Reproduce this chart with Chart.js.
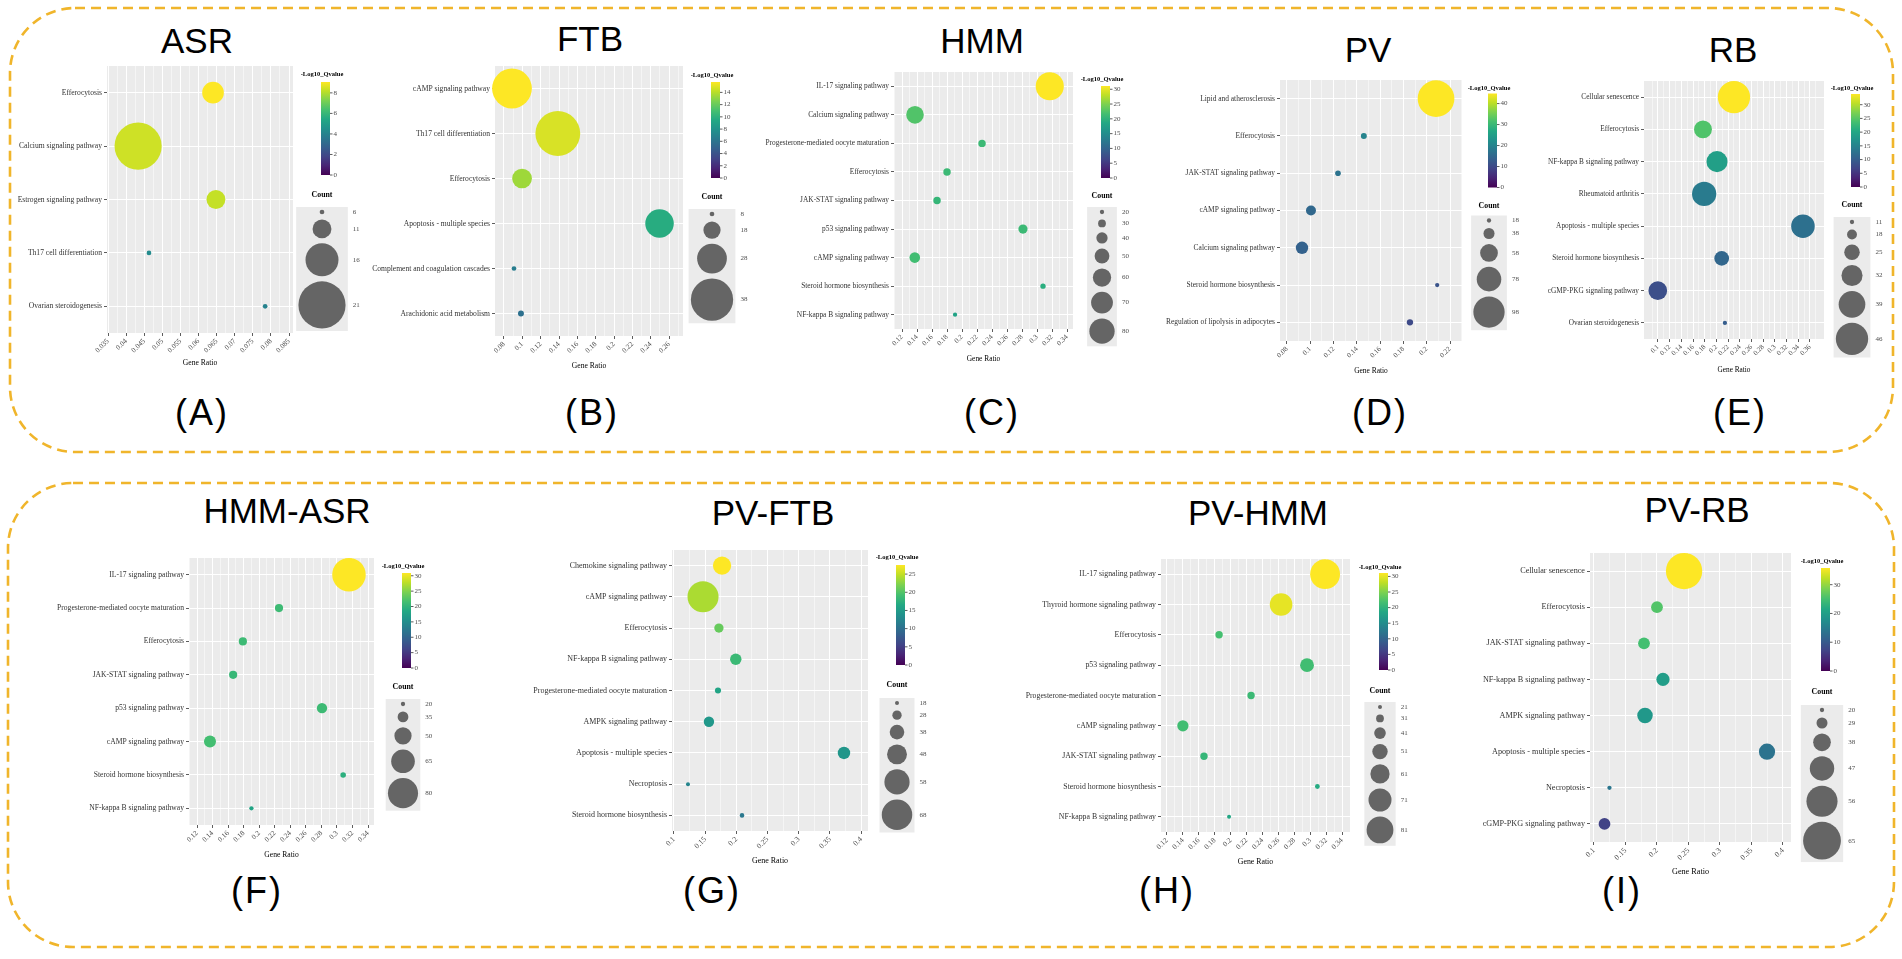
<!DOCTYPE html>
<html><head><meta charset="utf-8">
<script src="https://cdn.jsdelivr.net/npm/chart.js@4.4.1/dist/chart.umd.min.js"></script>
<style>
html,body{margin:0;padding:0;background:#fff;}
body{width:1902px;height:959px;position:relative;overflow:hidden;}
canvas{position:absolute;}
#deco{position:absolute;left:0;top:0;}
</style></head>
<body>
<svg id="deco" width="1902" height="959" xmlns="http://www.w3.org/2000/svg">
<rect x="10" y="8" width="1883" height="444" rx="65" ry="65" fill="none" stroke="#F0B52B" stroke-width="2.6" stroke-dasharray="10 6"/>
<rect x="8" y="483" width="1886" height="464" rx="65" ry="65" fill="none" stroke="#F0B52B" stroke-width="2.6" stroke-dasharray="10 6"/>
<g id="txt" font-family="Liberation Sans, Arial, sans-serif" text-anchor="middle" fill="#000"></g>
</svg>
<script>
// ---------------- DATA ----------------
// (A) ASR
const ASR_pathways = ['Efferocytosis','Calcium signaling pathway','Estrogen signaling pathway','Th17 cell differentiation','Ovarian steroidogenesis'];
const ASR_geneRatio = [0.064, 0.0433, 0.0648, 0.0463, 0.0784];
const ASR_count = [12, 21, 11, 6, 6];
const ASR_log10Q = [9.06, 8.4, 8.25, 4.3, 4.0];
const ASR_xTicks = [0.035,0.04,0.045,0.05,0.055,0.06,0.065,0.07,0.075,0.08,0.085];
const ASR_qTicks = [0,2,4,6,8];
const ASR_countBreaks = [6,11,16,21];

// (B) FTB
const FTB_pathways = ['cAMP signaling pathway','Th17 cell differentiation','Efferocytosis','Apoptosis - multiple species','Complement and coagulation cascades','Arachidonic acid metabolism'];
const FTB_geneRatio = [0.0887, 0.1387, 0.0997, 0.2496, 0.0909, 0.0985];
const FTB_count = [36, 40, 20, 27, 8, 9];
const FTB_log10Q = [15.7, 14.8, 13.4, 9.7, 6.6, 5.8];
const FTB_xTicks = [0.08,0.1,0.12,0.14,0.16,0.18,0.2,0.22,0.24,0.26];
const FTB_qTicks = [0,2,4,6,8,10,12,14];
const FTB_countBreaks = [8,18,28,38];

// (C) HMM
const HMM_pathways = ['IL-17 signaling pathway','Calcium signaling pathway','Progesterone-mediated oocyte maturation','Efferocytosis','JAK-STAT signaling pathway','p53 signaling pathway','cAMP signaling pathway','Steroid hormone biosynthesis','NF-kappa B signaling pathway'];
const HMM_geneRatio = [0.317, 0.1373, 0.2267, 0.18, 0.1667, 0.2813, 0.137, 0.308, 0.1907];
const HMM_count = [88, 58, 29, 29, 29, 34, 38, 23, 20];
const HMM_log10Q = [31.1, 22.5, 21, 21, 20.5, 21, 21.5, 19.5, 18];
const HMM_xTicks = [0.12,0.14,0.16,0.18,0.2,0.22,0.24,0.26,0.28,0.3,0.32,0.34];
const HMM_qTicks = [0,5,10,15,20,25,30];
const HMM_countBreaks = [20,30,40,50,60,70,80];

// (D) PV
const PV_pathways = ['Lipid and atherosclerosis','Efferocytosis','JAK-STAT signaling pathway','cAMP signaling pathway','Calcium signaling pathway','Steroid hormone biosynthesis','Regulation of lipolysis in adipocytes'];
const PV_geneRatio = [0.208, 0.146, 0.1238, 0.1006, 0.0929, 0.209, 0.1856];
const PV_count = [114, 23, 22, 35, 42, 18, 24];
const PV_log10Q = [44.8, 20, 17, 15, 14, 11.5, 10];
const PV_xTicks = [0.08,0.1,0.12,0.14,0.16,0.18,0.2,0.22];
const PV_qTicks = [0,10,20,30,40];
const PV_countBreaks = [18,38,58,78,98];

// (E) RB
const RB_pathways = ['Cellular senescence','Efferocytosis','NF-kappa B signaling pathway','Rheumatoid arthritis','Apoptosis - multiple species','Steroid hormone biosynthesis','cGMP-PKG signaling pathway','Ovarian steroidogenesis'];
const RB_geneRatio = [0.23, 0.177, 0.201, 0.179, 0.348, 0.209, 0.0997, 0.2145];
const RB_count = [46, 28, 32, 36, 35, 24, 29, 11];
const RB_log10Q = [33.9, 24.4, 19, 14, 12.5, 11.2, 8.2, 10];
const RB_xTicks = [0.1,0.12,0.14,0.16,0.18,0.2,0.22,0.24,0.26,0.28,0.3,0.32,0.34,0.36];
const RB_qTicks = [0,5,10,15,20,25,30];
const RB_countBreaks = [11,18,25,32,39,46];

// (F) HMM-ASR
const HMMASR_pathways = ['IL-17 signaling pathway','Progesterone-mediated oocyte maturation','Efferocytosis','JAK-STAT signaling pathway','p53 signaling pathway','cAMP signaling pathway','Steroid hormone biosynthesis','NF-kappa B signaling pathway'];
const HMMASR_geneRatio = [0.3155, 0.2255, 0.179, 0.1665, 0.2808, 0.1367, 0.308, 0.19];
const HMMASR_count = [88, 29, 29, 29, 34, 38, 23, 20];
const HMMASR_log10Q = [30.9, 21, 21, 20.5, 21, 21.5, 19.5, 18];
const HMMASR_xTicks = [0.12,0.14,0.16,0.18,0.2,0.22,0.24,0.26,0.28,0.3,0.32,0.34];
const HMMASR_qTicks = [0,5,10,15,20,25,30];
const HMMASR_countBreaks = [20,35,50,65,80];

// (G) PV-FTB
const PVFTB_pathways = ['Chemokine signaling pathway','cAMP signaling pathway','Efferocytosis','NF-kappa B signaling pathway','Progesterone-mediated oocyte maturation','AMPK signaling pathway','Apoptosis - multiple species','Necroptosis','Steroid hormone biosynthesis'];
const PVFTB_geneRatio = [0.177, 0.1465, 0.172, 0.199, 0.1705, 0.156, 0.3724, 0.1224, 0.209];
const PVFTB_count = [45, 69, 28, 32, 22, 30, 34, 18, 19];
const PVFTB_log10Q = [27.5, 24, 21, 18.5, 16, 14.6, 14.3, 12.4, 11];
const PVFTB_xTicks = [0.1,0.15,0.2,0.25,0.3,0.35,0.4];
const PVFTB_qTicks = [0,5,10,15,20,25];
const PVFTB_countBreaks = [18,28,38,48,58,68];

// (H) PV-HMM
const PVHMM_pathways = ['IL-17 signaling pathway','Thyroid hormone signaling pathway','Efferocytosis','p53 signaling pathway','Progesterone-mediated oocyte maturation','cAMP signaling pathway','JAK-STAT signaling pathway','Steroid hormone biosynthesis','NF-kappa B signaling pathway'];
const PVHMM_geneRatio = [0.3187, 0.2634, 0.1855, 0.296, 0.2257, 0.14, 0.1665, 0.309, 0.198];
const PVHMM_count = [89, 70, 30, 47, 30, 40, 30, 23, 21];
const PVHMM_log10Q = [31.1, 30, 21.8, 21.5, 21, 21.5, 20.5, 19, 18.5];
const PVHMM_xTicks = [0.12,0.14,0.16,0.18,0.2,0.22,0.24,0.26,0.28,0.3,0.32,0.34];
const PVHMM_qTicks = [0,5,10,15,20,25,30];
const PVHMM_countBreaks = [21,31,41,51,61,71,81];

// (I) PV-RB
const PVRB_pathways = ['Cellular senescence','Efferocytosis','JAK-STAT signaling pathway','NF-kappa B signaling pathway','AMPK signaling pathway','Apoptosis - multiple species','Necroptosis','cGMP-PKG signaling pathway'];
const PVRB_geneRatio = [0.243, 0.2, 0.1794, 0.2095, 0.181, 0.3746, 0.1246, 0.1167];
const PVRB_count = [63, 30, 30, 32, 35, 36, 20, 30];
const PVRB_log10Q = [35.8, 26, 25, 19.7, 19, 13.6, 14, 7];
const PVRB_xTicks = [0.1,0.15,0.2,0.25,0.3,0.35,0.4];
const PVRB_qTicks = [0,10,20,30];
const PVRB_countBreaks = [20,29,38,47,56,65];

// ---------------- LAYOUT / STYLE ----------------
const PANELS = [
 {key:'A', title:'ASR', tag:'(A)', titleX:197, titleY:53, tagX:202, tagY:425,
  cats:ASR_pathways, ratio:ASR_geneRatio, count:ASR_count, q:ASR_log10Q, xTicks:ASR_xTicks, qTicks:ASR_qTicks, sizeBreaks:ASR_countBreaks,
  L:107,T:66,R:293,B:333, xMin:0.0347, xMax:0.0861, fs:7.6, dLo:4.7, k:2.83, lcx:322, tY:74, bT:82, bB:175, cY:195, kT:207},
 {key:'B', title:'FTB', tag:'(B)', titleX:590, titleY:51, tagX:592, tagY:425,
  cats:FTB_pathways, ratio:FTB_geneRatio, count:FTB_count, q:FTB_log10Q, xTicks:FTB_xTicks, qTicks:FTB_qTicks, sizeBreaks:FTB_countBreaks,
  L:495,T:66,R:683,B:336, xMin:0.0702, xMax:0.2752, fs:7.6, dLo:4.7, k:1.253, lcx:712, tY:75, bT:82, bB:178, cY:197, kT:209},
 {key:'C', title:'HMM', tag:'(C)', titleX:982, titleY:53, tagX:992, tagY:425,
  cats:HMM_pathways, ratio:HMM_geneRatio, count:HMM_count, q:HMM_log10Q, xTicks:HMM_xTicks, qTicks:HMM_qTicks, sizeBreaks:HMM_countBreaks,
  L:894,T:72,R:1073,B:329, xMin:0.1093, xMax:0.348, fs:7.4, dLo:4.3, k:0.35, lcx:1102, tY:79, bT:86, bB:178, cY:196, kT:207},
 {key:'D', title:'PV', tag:'(D)', titleX:1368, titleY:62, tagX:1380, tagY:425,
  cats:PV_pathways, ratio:PV_geneRatio, count:PV_count, q:PV_log10Q, xTicks:PV_xTicks, qTicks:PV_qTicks, sizeBreaks:PV_countBreaks,
  L:1280,T:79.5,R:1462,B:341, xMin:0.074, xMax:0.2303, fs:7.45, dLo:4.3, k:0.3375, lcx:1489, tY:88, bT:93, bB:187, cY:205, kT:215},
 {key:'E', title:'RB', tag:'(E)', titleX:1733, titleY:62, tagX:1740, tagY:425,
  cats:RB_pathways, ratio:RB_geneRatio, count:RB_count, q:RB_log10Q, xTicks:RB_xTicks, qTicks:RB_qTicks, sizeBreaks:RB_countBreaks,
  L:1644,T:81,R:1824,B:339, xMin:0.0761, xMax:0.384, fs:7.3, dLo:4.3, k:0.8, lcx:1852, tY:88, bT:94, bB:187, cY:205, kT:217},
 {key:'F', title:'HMM-ASR', tag:'(F)', titleX:287, titleY:523, tagX:257, tagY:903,
  cats:HMMASR_pathways, ratio:HMMASR_geneRatio, count:HMMASR_count, q:HMMASR_log10Q, xTicks:HMMASR_xTicks, qTicks:HMMASR_qTicks, sizeBreaks:HMMASR_countBreaks,
  L:189,T:558,R:374,B:825, xMin:0.1097, xMax:0.3477, fs:7.6, dLo:4.3, k:0.43, lcx:403, tY:566, bT:573, bB:668, cY:687, kT:699},
 {key:'G', title:'PV-FTB', tag:'(G)', titleX:773, titleY:525, tagX:712, tagY:903,
  cats:PVFTB_pathways, ratio:PVFTB_geneRatio, count:PVFTB_count, q:PVFTB_log10Q, xTicks:PVFTB_xTicks, qTicks:PVFTB_qTicks, sizeBreaks:PVFTB_countBreaks,
  L:672,T:550,R:868,B:831, xMin:0.0968, xMax:0.4109, fs:8.0, dLo:4, k:0.53, lcx:897, tY:557, bT:565, bB:665, cY:685, kT:698},
 {key:'H', title:'PV-HMM', tag:'(H)', titleX:1258, titleY:525, tagX:1167, tagY:903,
  cats:PVHMM_pathways, ratio:PVHMM_geneRatio, count:PVHMM_count, q:PVHMM_log10Q, xTicks:PVHMM_xTicks, qTicks:PVHMM_qTicks, sizeBreaks:PVHMM_countBreaks,
  L:1161,T:559,R:1350,B:832, xMin:0.1125, xMax:0.35, fs:7.8, dLo:4, k:0.38, lcx:1380, tY:567, bT:573, bB:670, cY:691, kT:702},
 {key:'I', title:'PV-RB', tag:'(I)', titleX:1697, titleY:522, tagX:1622, tagY:903,
  cats:PVRB_pathways, ratio:PVRB_geneRatio, count:PVRB_count, q:PVRB_log10Q, xTicks:PVRB_xTicks, qTicks:PVRB_qTicks, sizeBreaks:PVRB_countBreaks,
  L:1590,T:553,R:1791,B:842, xMin:0.0937, xMax:0.4127, fs:8.2, dLo:4.3, k:0.745, lcx:1822, tY:561, bT:568, bB:671, cY:692, kT:705}
];

const VIR = ['#440154','#482475','#414487','#355F8D','#2A788E','#21918C','#22A884','#44BF70','#7AD151','#BDDF26','#FDE725'];
function h2r(h){return [parseInt(h.slice(1,3),16),parseInt(h.slice(3,5),16),parseInt(h.slice(5,7),16)];}
function vir(t){
  t=Math.max(0,Math.min(1,t)); const p=t*10; const i=Math.min(9,Math.floor(p)); const f=p-i;
  const a=h2r(VIR[i]), b=h2r(VIR[i+1]);
  return 'rgb('+a.map((v,j)=>Math.round(v+(b[j]-v)*f)).join(',')+')';
}
function diam(P,c){ return P.dLo + (c - P.sizeBreaks[0]) * P.k; }

const SERIF = '"Liberation Serif","Times New Roman",serif';

// titles & panel tags
const txt = document.getElementById('txt');
PANELS.forEach(P=>{
  const t = document.createElementNS('http://www.w3.org/2000/svg','text');
  t.setAttribute('x',P.titleX); t.setAttribute('y',P.titleY); t.setAttribute('font-size','35'); t.textContent=P.title; txt.appendChild(t);
  const g = document.createElementNS('http://www.w3.org/2000/svg','text');
  g.setAttribute('x',P.tagX); g.setAttribute('y',P.tagY); g.setAttribute('font-size','36'); g.setAttribute('letter-spacing','2'); g.textContent=P.tag; txt.appendChild(g);
});

const bgPlugin = { id:'panelbg', beforeDraw(chart){ const a=chart.chartArea, c=chart.ctx; c.save(); c.fillStyle='#EBEBEB'; c.fillRect(a.left,a.top,a.right-a.left,a.bottom-a.top); c.restore(); } };

function legendPlugin(P,cL,cT){
  return { id:'lg'+P.key, afterDraw(chart){
    const c=chart.ctx; c.save(); c.translate(-cL,-cT);
    c.textBaseline='middle';
    c.fillStyle='#000'; c.font='bold 6.5px '+SERIF; c.textAlign='center';
    c.fillText('-Log10_Qvalue', P.lcx, P.tY);
    const bx=P.lcx-1, bw=9;
    const g=c.createLinearGradient(0,P.bB,0,P.bT); VIR.forEach((h,i)=>g.addColorStop(i/10,h));
    c.fillStyle=g; c.fillRect(bx,P.bT,bw,P.bB-P.bT);
    const qMax=Math.max(...P.q);
    c.font='7px '+SERIF; c.textAlign='left'; c.strokeStyle='#333'; c.lineWidth=0.8;
    P.qTicks.forEach(v=>{ const y=P.bB-v/qMax*(P.bB-P.bT);
      c.beginPath(); c.moveTo(bx+bw,y); c.lineTo(bx+bw+2.5,y); c.stroke();
      c.fillStyle='#4D4D4D'; c.fillText(String(v), bx+bw+3.5, y); });
    c.font='bold 7.8px '+SERIF; c.textAlign='center'; c.fillStyle='#000';
    c.fillText('Count', P.lcx, P.cY);
    const ds=P.sizeBreaks.map(b=>diam(P,b)); const hs=ds.map(d=>Math.max(d+5,10));
    const bwid=Math.max(...ds)+4.5; const tot=hs.reduce((a,b)=>a+b,0);
    c.fillStyle='#EBEBEB'; c.fillRect(P.lcx-bwid/2,P.kT,bwid,tot);
    let y=P.kT; c.font='7px '+SERIF; c.textAlign='left';
    ds.forEach((d,i)=>{ const cy=y+hs[i]/2;
      c.fillStyle='#656565'; c.beginPath(); c.arc(P.lcx,cy,d/2,0,2*Math.PI); c.fill();
      c.fillStyle='#4D4D4D'; c.fillText(String(P.sizeBreaks[i]), P.lcx+bwid/2+5, cy); y+=hs[i]; });
    c.restore();
  }};
}

function makePanel(P){
  const cL=Math.max(0,P.L-150), cT=P.T-30, cR=Math.min(1902,P.lcx+48), axisH=36, cB=P.B+axisH;
  const W=cR-cL, H=cB-cT;
  const cv=document.createElement('canvas');
  cv.width=W; cv.height=H; cv.style.left=cL+'px'; cv.style.top=cT+'px'; cv.style.width=W+'px'; cv.style.height=H+'px';
  document.body.appendChild(cv);
  const n=P.cats.length;
  const pts=P.cats.map((name,i)=>({x:P.ratio[i], y:i, r:diam(P,P.count[i])/2}));
  const qMax=Math.max(...P.q);
  const cols=P.q.map(v=>vir(v/qMax));
  const step=P.xTicks[1]-P.xTicks[0];
  const tks=[];
  P.xTicks.forEach((v,i)=>{ tks.push({value:v, minor:false}); if(i<P.xTicks.length-1) tks.push({value:(v+P.xTicks[i+1])/2, minor:true}); });
  if(P.xTicks[0]-step/2>=P.xMin) tks.unshift({value:P.xTicks[0]-step/2, minor:true});
  const last=P.xTicks[P.xTicks.length-1];
  if(last+step/2<=P.xMax) tks.push({value:last+step/2, minor:true});
  new Chart(cv,{
    type:'bubble',
    data:{datasets:[{data:pts, backgroundColor:cols, borderWidth:0, borderColor:'rgba(0,0,0,0)', hoverBorderWidth:0, hoverRadius:0, clip:false}]},
    options:{
      responsive:false, animation:false, events:[],
      layout:{padding:{left:0, top:P.T-cT, right:cR-P.R, bottom:0}},
      plugins:{legend:{display:false}, tooltip:{enabled:false}},
      scales:{
        x:{type:'linear', position:'bottom', min:P.xMin, max:P.xMax,
          afterBuildTicks(s){ s.ticks=tks.map(t=>({value:t.value, minor:t.minor})); },
          afterFit(s){ s.height=axisH; },
          border:{display:false},
          grid:{ color:'#FFFFFF', lineWidth:ctx=>(ctx.tick&&ctx.tick.minor)?0.5:1,
                 tickColor:ctx=>(ctx.tick&&ctx.tick.minor)?'rgba(0,0,0,0)':'#333333', tickLength:3, tickWidth:0.8, drawTicks:true},
          ticks:{autoSkip:false, minRotation:45, maxRotation:45, padding:1, color:'#4D4D4D',
                 font:{family:SERIF, size:P.fs*0.95},
                 callback:(v,i,ticks)=> ticks[i].minor ? '' : String(v)},
          title:{display:true, text:'Gene Ratio', color:'#000', font:{family:SERIF, size:P.fs}, padding:{top:0,bottom:1}}
        },
        y:{type:'linear', position:'left', reverse:true, min:-0.5, max:n-0.5,
          afterBuildTicks(s){ s.ticks=P.cats.map((c,i)=>({value:i})); },
          afterFit(s){ s.width=P.L-cL; },
          border:{display:false},
          grid:{color:'#FFFFFF', lineWidth:1, tickColor:'#333333', tickLength:3, tickWidth:0.8, drawTicks:true},
          ticks:{autoSkip:false, padding:2, color:'#333333', font:{family:SERIF, size:P.fs},
                 callback:(v)=> P.cats[Math.round(v)]}
        }
      }
    },
    plugins:[bgPlugin, legendPlugin(P,cL,cT)]
  });
}
PANELS.forEach(makePanel);
</script>
</body></html>
